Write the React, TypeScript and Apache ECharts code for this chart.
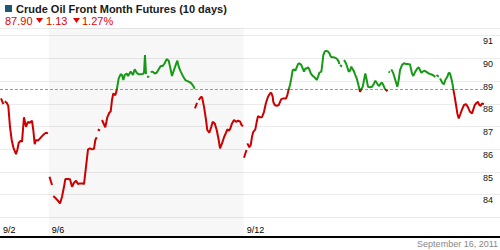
import React, { useEffect, useRef } from "react";
import * as echarts from "echarts";

type Pt = [number, number] | null;
const GAP: Pt = null;

// Time axis: trading-day index (0 = 9/2 ... 9/16 = 9)
const dayLabels = ["9/2", "9/6", "9/7", "9/8", "9/9", "9/12", "9/13", "9/14", "9/15", "9/16"];
const labeledDays = [0, 1, 5];
const shadedWeek = [1, 5];
const priceLabels = [84, 85, 86, 87, 88, 89, 90, 91];

const title = "Crude Oil Front Month Futures (10 days)";
const lastPrice = "87.90";
const change = "1.13";
const changePct = "1.27%";
const dateStamp = "September 16, 2011";
const refLine = 88.64;
const yMin = 82.14;
const yMax = 91.34;
const xMax = 10.256;
const refLineEnd = 9.91;

const sep02: Pt[] = [[0.021, 88.24], [0.068, 87.99], GAP, [0.096, 88.11], [0.137, 88.05], [0.170, 87.91], [0.205, 86.99], [0.240, 86.41], [0.273, 86.09], [0.328, 85.79], [0.355, 85.97], [0.384, 86.29], [0.425, 86.38], [0.451, 86.33], [0.492, 87.41], [0.533, 86.99], [0.574, 87.21], [0.615, 87.17], [0.656, 87.26], [0.683, 86.85], [0.712, 86.23], [0.738, 86.41], [0.779, 86.38], [0.821, 86.48], [0.862, 86.58], [0.903, 86.67], [0.944, 86.73], [0.985, 86.70], GAP];
const sep06: Pt[] = [[1.015, 84.79], [1.067, 84.43], GAP, [1.093, 83.94], [1.128, 83.88], [1.175, 83.77], [1.231, 83.62], [1.272, 83.91], [1.313, 84.35], [1.340, 84.69], [1.395, 84.69], [1.436, 84.68], [1.477, 84.35], [1.518, 84.53], [1.559, 84.62], [1.600, 84.47], [1.641, 84.50], [1.696, 84.50], [1.723, 84.47], [1.764, 85.23], [1.805, 86.00], [1.846, 86.04], [1.887, 86.00], [1.928, 86.02], [1.955, 86.41], [1.984, 86.53], GAP];
const sep07: Pt[] = [[2.006, 86.88], [2.051, 86.82], GAP, [2.092, 87.29], [2.160, 86.97], [2.201, 87.41], [2.242, 87.61], [2.271, 87.67], [2.297, 88.17], [2.324, 88.46], [2.365, 88.38], [2.394, 88.61], [2.435, 89.12], [2.476, 89.31], [2.503, 89.27], [2.530, 89.05], [2.558, 89.27], [2.599, 89.34], [2.626, 89.23], [2.681, 89.42], [2.728, 89.27], [2.763, 89.52], [2.804, 89.37], [2.845, 89.30], [2.886, 89.30], [2.927, 89.31], [2.954, 89.37], [2.974, 90.15], [2.995, 89.31], GAP];
const sep08: Pt[] = [[3.015, 89.19], [3.063, 89.19], GAP, [3.091, 89.40], [3.132, 89.42], [3.173, 89.34], [3.214, 89.37], [3.255, 89.52], [3.297, 89.67], [3.338, 89.67], [3.378, 89.79], [3.419, 89.97], [3.461, 89.90], [3.487, 89.64], [3.528, 89.23], [3.569, 89.49], [3.610, 89.75], [3.637, 89.90], [3.666, 89.64], [3.707, 89.42], [3.760, 89.19], [3.801, 89.05], [3.857, 88.99], [3.912, 88.93], [3.953, 88.82], [3.980, 88.73], [3.990, 88.66], GAP];
const sep09: Pt[] = [[4.000, 87.80], [4.041, 88.05], GAP, [4.076, 88.17], [4.117, 88.29], [4.144, 88.31], [4.185, 87.87], [4.226, 87.29], [4.252, 86.85], [4.293, 86.73], [4.334, 86.99], [4.363, 87.21], [4.404, 87.14], [4.445, 86.85], [4.486, 86.41], [4.513, 86.04], [4.554, 86.26], [4.595, 86.53], [4.636, 86.73], [4.663, 86.88], [4.691, 86.82], [4.718, 86.88], [4.759, 87.14], [4.800, 87.29], [4.841, 87.21], [4.882, 87.26], [4.923, 87.23], [4.954, 87.07], [4.985, 87.02], GAP];
const sep12: Pt[] = [[5.005, 85.63], [5.056, 85.97], GAP, [5.073, 86.26], [5.114, 86.09], [5.143, 86.19], [5.169, 86.55], [5.196, 86.77], [5.237, 86.88], [5.266, 87.21], [5.292, 87.46], [5.333, 87.41], [5.374, 87.41], [5.415, 87.65], [5.456, 88.05], [5.497, 88.31], [5.538, 88.46], [5.565, 88.49], [5.594, 88.31], [5.606, 88.09], [5.635, 87.95], [5.676, 87.91], [5.717, 87.95], [5.744, 88.09], [5.770, 88.21], [5.811, 88.24], [5.867, 88.24], [5.894, 88.39], [5.922, 88.64], [5.949, 88.83], [5.975, 89.12]];
const sep13: Pt[] = [[6.004, 89.49], [6.031, 89.52], [6.058, 89.46], [6.086, 89.61], [6.113, 89.75], [6.140, 89.79], [6.181, 89.71], [6.209, 89.56], [6.236, 89.42], [6.263, 89.56], [6.291, 89.56], [6.318, 89.61], [6.345, 89.52], [6.374, 89.34], [6.414, 89.23], [6.455, 89.17], [6.496, 89.05], [6.523, 89.19], [6.550, 89.37], [6.591, 89.42], [6.605, 89.64], [6.632, 90.15], [6.661, 90.30], [6.687, 90.34], [6.728, 90.30], [6.755, 90.23], [6.784, 90.08], [6.810, 90.05], [6.851, 90.05], [6.892, 90.01], [6.919, 89.96], [6.948, 89.86], [6.960, 89.75], GAP];
const sep14: Pt[] = [[6.974, 89.71], [7.015, 89.64], GAP, [7.056, 89.93], [7.097, 89.79], [7.124, 89.61], [7.153, 89.42], [7.179, 89.46], [7.206, 89.64], [7.235, 89.52], [7.262, 89.42], [7.288, 89.27], [7.317, 89.12], [7.344, 88.90], [7.370, 88.68], [7.385, 88.53], [7.411, 88.64], [7.440, 88.75], [7.467, 89.05], [7.494, 89.34], [7.522, 89.05], [7.549, 88.75], [7.590, 88.73], [7.631, 88.75], [7.672, 88.90], [7.699, 89.02], [7.727, 88.93], [7.754, 88.83], [7.781, 88.79], [7.809, 88.90], [7.836, 88.93], [7.863, 88.83], [7.891, 88.68], [7.918, 88.61], [7.949, 88.56], GAP];
const sep15: Pt[] = [[7.969, 89.42], [8.000, 89.39], GAP, [8.027, 89.52], [8.068, 89.34], [8.109, 89.05], [8.150, 88.75], [8.178, 89.05], [8.205, 89.49], [8.246, 89.71], [8.287, 89.79], [8.328, 89.75], [8.369, 89.75], [8.410, 89.74], [8.451, 89.34], [8.478, 89.23], [8.519, 89.42], [8.560, 89.56], [8.589, 89.61], [8.615, 89.49], [8.642, 89.37], [8.671, 89.42], [8.712, 89.46], [8.753, 89.40], [8.794, 89.34], [8.835, 89.31], [8.876, 89.27], [8.903, 89.23], [8.930, 89.19], GAP];
const sep16: Pt[] = [[8.954, 89.27], [9.000, 89.19], GAP, [9.026, 89.12], [9.081, 88.90], [9.108, 88.87], [9.134, 89.05], [9.175, 89.19], [9.204, 89.37], [9.231, 89.34], [9.258, 89.12], [9.286, 88.83], [9.299, 88.64], [9.327, 88.31], [9.354, 87.95], [9.381, 87.58], [9.410, 87.36], [9.436, 87.51], [9.477, 87.76], [9.518, 87.95], [9.559, 87.99], [9.600, 87.85], [9.641, 87.65], [9.682, 87.58], [9.709, 87.76], [9.738, 87.95], [9.779, 88.05], [9.805, 88.09], [9.832, 87.95], [9.861, 87.91], [9.887, 88.02], [9.928, 87.99]];

const days = [sep02, sep06, sep07, sep08, sep09, sep12, sep13, sep14, sep15, sep16];

const RED = "#cc0000";
const GREEN = "#169a16";
const HEAD_RED = "#e60000";
const FONT = '"Liberation Sans", Arial, sans-serif';

function buildData() {
  const out: any[] = [];
  let lastT = 0;
  days.forEach((d) => {
    d.forEach((p) => {
      if (p === null) out.push([lastT, null]);
      else {
        out.push([p[0], p[1]]);
        lastT = p[0];
      }
    });
  });
  return out;
}

export default function App() {
  const ref = useRef<HTMLDivElement>(null);
  useEffect(() => {
    if (!ref.current) return;
    const chart = echarts.init(ref.current, null, { renderer: "svg" });
    const isInt = (v: number) => Math.abs(v - Math.round(v)) < 1e-6;
    chart.setOption({
      animation: false,
      backgroundColor: "#ffffff",
      textStyle: { fontFamily: FONT },
      grid: { left: 0, right: 0, top: 28, bottom: 13, containLabel: false },
      xAxis: {
        type: "value",
        min: 0,
        max: xMax,
        interval: 1,
        axisLine: { show: true, lineStyle: { color: "#000", width: 2 } },
        axisTick: { show: false },
        splitLine: { show: false },
        axisLabel: {
          inside: true,
          margin: 3,
          fontSize: 9,
          color: "#000",
          fontFamily: FONT,
          align: "left",
          padding: [0, 0, 0, 3],
          showMaxLabel: false,
          formatter: (v: number) => {
            if (!isInt(v)) return "";
            const i = Math.round(v);
            return labeledDays.includes(i) ? dayLabels[i] : "";
          },
        },
      },
      yAxis: {
        type: "value",
        position: "right",
        min: yMin,
        max: yMax,
        minInterval: 1,
        maxInterval: 1,
        splitNumber: 9,
        axisLine: { show: false },
        axisTick: { show: false },
        splitLine: { show: true, lineStyle: { color: "#ebebeb", width: 1 } },
        axisLabel: {
          inside: true,
          margin: 7,
          fontSize: 9,
          color: "#111",
          fontFamily: FONT,
          verticalAlign: "top",
          padding: [1, 0, 0, 0],
          formatter: (v: number) =>
            isInt(v) && priceLabels.includes(Math.round(v)) ? String(Math.round(v)) : "",
        },
      },
      visualMap: {
        show: false,
        type: "piecewise",
        seriesIndex: 0,
        dimension: 1,
        pieces: [
          { gte: 0, lt: refLine, color: RED },
          { gte: refLine, lte: 200, color: GREEN },
        ],
      },
      series: [
        {
          type: "line",
          data: buildData(),
          showSymbol: false,
          symbol: "none",
          connectNulls: false,
          lineStyle: { width: 2 },
          z: 5,
          markArea: {
            silent: true,
            itemStyle: { color: "rgba(0,0,0,0.032)" },
            data: [[{ xAxis: shadedWeek[0] }, { xAxis: shadedWeek[1] }]],
          },
          markLine: {
            silent: true,
            symbol: "none",
            label: { show: false },
            lineStyle: { color: "#999", type: [3, 2], width: 1 },
            data: [[{ coord: [0, refLine] }, { coord: [refLineEnd, refLine] }]],
          },
        },
      ],
      graphic: [
        { type: "rect", shape: { x: 5, y: 5, width: 7, height: 7 }, style: { fill: "#1c5a74" } },
        {
          type: "text",
          x: 16,
          y: 8.5,
          style: { text: title, fill: "#1a1a1a", font: `bold 11px ${FONT}`, verticalAlign: "middle" },
        },
        {
          type: "text",
          x: 5,
          y: 21,
          style: { text: lastPrice, fill: HEAD_RED, font: `11px ${FONT}`, verticalAlign: "middle" },
        },
        { type: "polygon", shape: { points: [[36, 18], [43, 18], [39.5, 23]] }, style: { fill: HEAD_RED } },
        {
          type: "text",
          x: 46,
          y: 21,
          style: { text: change, fill: HEAD_RED, font: `11px ${FONT}`, verticalAlign: "middle" },
        },
        { type: "polygon", shape: { points: [[73, 18], [80, 18], [76.5, 23]] }, style: { fill: HEAD_RED } },
        {
          type: "text",
          x: 82,
          y: 21,
          style: { text: changePct, fill: HEAD_RED, font: `11px ${FONT}`, verticalAlign: "middle" },
        },
        {
          type: "text",
          right: 2,
          y: 244,
          style: { text: dateStamp, fill: "#888", font: `9px ${FONT}`, verticalAlign: "middle" },
        },
      ],
    });
    return () => chart.dispose();
  }, []);
  return (
    <div
      ref={ref}
      style={{ position: "absolute", left: 0, top: 0, width: 500, height: 250 }}
    />
  );
}
